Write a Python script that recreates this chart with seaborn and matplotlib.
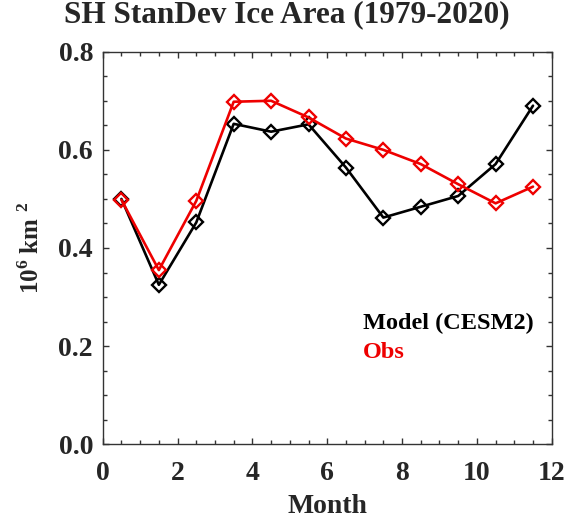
import matplotlib
matplotlib.use("Agg")
import matplotlib.pyplot as plt
import numpy as np
import pandas as pd
import seaborn as sns
from matplotlib.ticker import MultipleLocator

# Monthly standard deviation of Southern Hemisphere sea-ice area (10^6 km^2)
months = [0.5, 1.5, 2.5, 3.5, 4.5, 5.5, 6.5, 7.5, 8.5, 9.5, 10.5, 11.5]
model_cesm2 = [0.500, 0.325, 0.452, 0.653, 0.637, 0.652, 0.564, 0.462, 0.484, 0.506, 0.571, 0.690]
obs = [0.498, 0.355, 0.496, 0.698, 0.700, 0.666, 0.623, 0.600, 0.571, 0.530, 0.491, 0.525]
series_names = ["Model (CESM2)", "Obs"]
series_colors = ["#000000", "#ee0000"]

df = pd.DataFrame({
    "Month": months * 2,
    "value": model_cesm2 + obs,
    "series": [series_names[0]] * len(months) + [series_names[1]] * len(obs),
})

sns.set_theme(style="ticks")
plt.rcParams["font.family"] = ["Liberation Serif", "DejaVu Serif"]
plt.rcParams["font.weight"] = "bold"
plt.rcParams["mathtext.fontset"] = "custom"
plt.rcParams["mathtext.rm"] = "Liberation Serif:bold"
plt.rcParams["mathtext.bf"] = "Liberation Serif:bold"

fig = plt.figure(figsize=(5.86, 5.21), dpi=100)
ax = fig.add_axes([0.1753, 0.1472, 0.7662, 0.7536])

sns.lineplot(
    data=df, x="Month", y="value", hue="series",
    hue_order=series_names, palette=series_colors,
    marker="D", markersize=7.0, markerfacecolor="none",
    markeredgewidth=1.7, linewidth=1.9, legend=False, ax=ax,
)
for line, c in zip(ax.lines, series_colors):
    line.set_markeredgecolor(c)

ax.set_xlim(0, 12)
ax.set_ylim(0, 0.8)
ax.xaxis.set_major_locator(MultipleLocator(2))
ax.xaxis.set_minor_locator(MultipleLocator(0.5))
ax.yaxis.set_major_locator(MultipleLocator(0.2))
ax.yaxis.set_minor_locator(MultipleLocator(0.05))
ax.xaxis.set_major_formatter(matplotlib.ticker.FormatStrFormatter("%d"))
ax.yaxis.set_major_formatter(matplotlib.ticker.FormatStrFormatter("%.1f"))

ax.tick_params(which="both", direction="in", top=True, right=True,
               color="#333333", width=1.0, labelsize=20)
ax.tick_params(which="major", length=4.5)
ax.tick_params(which="minor", length=2.6)
ax.tick_params(axis="x", which="major", pad=12)
ax.tick_params(axis="y", which="major", pad=7)
for s in ax.spines.values():
    s.set_visible(True)
    s.set_color("#333333")
    s.set_linewidth(1.0)

ax.set_xlabel("Month", fontsize=20, fontweight="bold", labelpad=6)
ax.set_ylabel(r"10$^{6}$ km $^{2}$", fontsize=18, fontweight="bold", labelpad=10)

ax.text(0.58, 0.309, series_names[0], transform=ax.transAxes, color=series_colors[0],
        fontsize=17.5, fontweight="bold", va="center", ha="left")
ax.text(0.58, 0.235, series_names[1], transform=ax.transAxes, color=series_colors[1],
        fontsize=17.5, fontweight="bold", va="center", ha="left")

fig.text(0.49, 0.972, "SH StanDev Ice Area (1979-2020)", fontsize=22.5,
         fontweight="bold", ha="center", va="center")

fig.savefig("out.png", dpi=100, facecolor="white")
